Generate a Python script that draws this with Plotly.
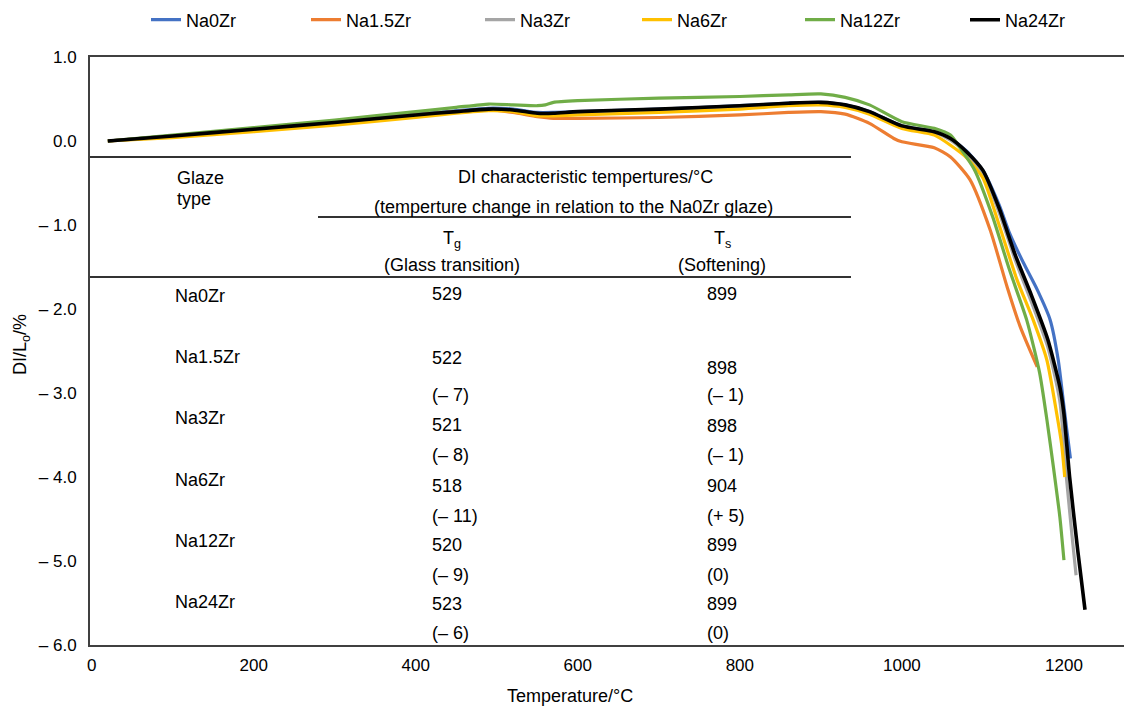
import plotly.graph_objects as go

# ---------------- data ----------------
series_names = ["Na0Zr", "Na1.5Zr", "Na3Zr", "Na6Zr", "Na12Zr", "Na24Zr"]
series_colors = ["#4472C4", "#ED7D31", "#A5A5A5", "#FFC000", "#70AD47", "#000000"]

t_na0 = [20, 100, 200, 300, 400, 450, 490, 520, 550, 570, 600, 700, 800, 860, 900, 930, 960, 1000, 1040, 1060, 1080, 1100, 1120, 1133, 1150, 1167, 1183, 1193, 1199, 1203, 1208]
d_na0 = [0.0, 0.06, 0.15, 0.23, 0.32, 0.36, 0.39, 0.38, 0.34, 0.34, 0.35, 0.38, 0.42, 0.45, 0.46, 0.43, 0.35, 0.18, 0.11, 0.03, -0.12, -0.35, -0.76, -1.10, -1.45, -1.77, -2.13, -2.61, -3.08, -3.40, -3.78]

t_na15 = [20, 100, 200, 300, 400, 450, 490, 520, 550, 570, 600, 700, 800, 860, 900, 930, 960, 990, 1000, 1040, 1060, 1084, 1109, 1130, 1146, 1158, 1167]
d_na15 = [0.0, 0.06, 0.14, 0.22, 0.31, 0.35, 0.37, 0.34, 0.29, 0.27, 0.27, 0.28, 0.31, 0.34, 0.35, 0.32, 0.21, 0.03, -0.01, -0.08, -0.19, -0.46, -1.06, -1.74, -2.21, -2.49, -2.69]

t_na3 = [20, 100, 200, 300, 400, 450, 490, 520, 550, 570, 600, 700, 800, 860, 900, 930, 960, 1000, 1040, 1060, 1080, 1100, 1120, 1140, 1160, 1180, 1195, 1203, 1210, 1215]
d_na3 = [0.0, 0.05, 0.13, 0.21, 0.30, 0.34, 0.37, 0.36, 0.32, 0.32, 0.33, 0.37, 0.41, 0.44, 0.45, 0.42, 0.34, 0.17, 0.10, 0.01, -0.15, -0.38, -0.85, -1.42, -1.92, -2.45, -3.10, -4.00, -4.70, -5.17]

t_na6 = [20, 100, 200, 300, 400, 450, 490, 520, 550, 570, 600, 700, 800, 860, 900, 930, 960, 1000, 1040, 1060, 1080, 1100, 1120, 1142, 1162, 1179, 1191, 1197, 1201]
d_na6 = [0.0, 0.04, 0.11, 0.19, 0.28, 0.33, 0.36, 0.35, 0.30, 0.30, 0.31, 0.34, 0.38, 0.42, 0.43, 0.40, 0.32, 0.15, 0.07, -0.05, -0.20, -0.44, -1.00, -1.65, -2.13, -2.61, -3.24, -3.60, -4.00]

t_na12 = [20, 100, 200, 300, 400, 450, 490, 520, 550, 560, 570, 600, 700, 800, 860, 900, 930, 960, 1000, 1040, 1060, 1071, 1090, 1112, 1133, 1154, 1170, 1179, 1187, 1195, 1200]
d_na12 = [0.0, 0.07, 0.16, 0.25, 0.35, 0.40, 0.44, 0.43, 0.42, 0.43, 0.46, 0.48, 0.51, 0.53, 0.55, 0.56, 0.52, 0.43, 0.23, 0.15, 0.07, -0.07, -0.35, -0.90, -1.54, -2.13, -2.76, -3.32, -3.88, -4.48, -4.99]

t_na24 = [20, 100, 200, 300, 400, 450, 490, 520, 550, 570, 600, 700, 800, 860, 900, 930, 960, 1000, 1040, 1060, 1080, 1100, 1120, 1140, 1160, 1180, 1195, 1200, 1207, 1217, 1226]
d_na24 = [0.0, 0.06, 0.14, 0.22, 0.31, 0.35, 0.38, 0.37, 0.33, 0.33, 0.35, 0.38, 0.42, 0.45, 0.46, 0.43, 0.35, 0.18, 0.11, 0.03, -0.13, -0.35, -0.80, -1.36, -1.84, -2.36, -2.93, -3.25, -4.00, -4.87, -5.58]

series_t = [t_na0, t_na15, t_na3, t_na6, t_na12, t_na24]
series_d = [d_na0, d_na15, d_na3, d_na6, d_na12, d_na24]

# table contents
table_glaze = ["Na0Zr", "Na1.5Zr", "Na3Zr", "Na6Zr", "Na12Zr", "Na24Zr"]
table_tg = ["529", "522", "521", "518", "520", "523"]
table_ts = ["899", "898", "898", "904", "899", "899"]
table_tg_change = ["", "(– 7)", "(– 8)", "(– 11)", "(– 9)", "(– 6)"]
table_ts_change = ["", "(– 1)", "(– 1)", "(+ 5)", "(0)", "(0)"]

y_tickvals = [1, 0, -1, -2, -3, -4, -5, -6]
y_ticktext = ["1.0", "0.0", "– 1.0", "– 2.0", "– 3.0", "– 4.0", "– 5.0", "– 6.0"]
x_tickvals = [0, 200, 400, 600, 800, 1000, 1200]

# ---------------- layout helpers ----------------
# the page body has an 8 px margin, so the figure is drawn 8 px in from the window corner
OFF = 8
W, H = 1132 - OFF, 706 - OFF
PL, PR, PT, PB = 90, 1132, 57, 645   # plot area in window pixels
FONT = "Liberation Sans, Arial, sans-serif"

def px(p):
    return (p - PL) / (PR - PL)

def py(p):
    return (PB - p) / (PB - PT)

fig = go.Figure()

legend_x = [146, 306, 480, 637, 800, 965]
for i, name in enumerate(series_names):
    lname = "legend" if i == 0 else f"legend{i+1}"
    fig.add_trace(go.Scatter(
        x=series_t[i], y=series_d[i], mode="lines", name=name,
        line=dict(color=series_colors[i], width=3.2 if name != "Na24Zr" else 3.6, shape="spline", smoothing=0.6),
        legend=lname, showlegend=True,
    ))

legend_layouts = {}
for i, start in enumerate(legend_x):
    lname = "legend" if i == 0 else f"legend{i+1}"
    legend_layouts[lname] = dict(
        x=px(start), y=py(20), xanchor="left", yanchor="middle",
        orientation="h", bgcolor="rgba(0,0,0,0)", borderwidth=0,
        font=dict(family=FONT, size=18, color="#000"),
        itemwidth=30,
    )

# table lines
line_style = dict(color="#333333", width=2)
shapes = [
    dict(type="line", xref="paper", yref="paper", x0=px(90), x1=px(851), y0=py(157), y1=py(157), line=line_style),
    dict(type="line", xref="paper", yref="paper", x0=px(318), x1=px(851), y0=py(217), y1=py(217), line=line_style),
    dict(type="line", xref="paper", yref="paper", x0=px(90), x1=px(851), y0=py(277), y1=py(277), line=line_style),
]

annotations = []
def txt(text, x, y, anchor="left", size=18):
    annotations.append(dict(text=text, x=px(x), y=py(y), xref="paper", yref="paper",
                            xanchor=anchor, yanchor="middle", showarrow=False,
                            font=dict(family=FONT, size=size, color="#000")))

txt("Glaze", 175, 178)
txt("type", 175, 199)
txt("DI characteristic tempertures/°C", 585, 177, "center")
txt("(temperture change in relation to the Na0Zr glaze)", 573, 207, "center")
txt("T<sub>g</sub>", 452, 239, "center")
txt("(Glass transition)", 452, 265, "center")
txt("T<sub>s</sub>", 722, 239, "center")
txt("(Softening)", 722, 265, "center")

name_y = [296, 357, 418, 480, 541, 602]
tg_y = [294, 358, 425, 486, 545, 604]
ts_y = [294, 368, 426, 486, 545, 604]
chg_y = [None, 395, 455, 516, 575, 633]
for i in range(len(table_glaze)):
    txt(table_glaze[i], 173, name_y[i])
    txt(table_tg[i], 430, tg_y[i])
    txt(table_ts[i], 705, ts_y[i])
    if table_tg_change[i]:
        txt(table_tg_change[i], 430, chg_y[i])
        txt(table_ts_change[i], 705, chg_y[i])

# axis titles as annotations for exact placement
annotations.append(dict(text="Temperature/°C", x=px(570), y=py(696), xref="paper", yref="paper",
                        xanchor="center", yanchor="middle", showarrow=False,
                        font=dict(family=FONT, size=18, color="#000")))
annotations.append(dict(text="DI/L<sub>o</sub>/%", x=px(21), y=py(345), xref="paper", yref="paper",
                        xanchor="center", yanchor="middle", showarrow=False, textangle=-90,
                        font=dict(family=FONT, size=18, color="#000")))

fig.update_layout(
    width=W, height=H,
    margin=dict(l=PL - OFF, r=1132 - PR, t=PT - OFF, b=706 - PB, autoexpand=False),
    paper_bgcolor="white", plot_bgcolor="white",
    font=dict(family=FONT, size=18, color="#000"),
    shapes=shapes, annotations=annotations,
    **legend_layouts,
)

fig.update_xaxes(
    range=[-2, 1284], tickvals=x_tickvals, showgrid=False, zeroline=False,
    showline=True, linecolor="#404040", linewidth=2, mirror=True,
    ticks="outside", ticklen=4, tickcolor="rgba(0,0,0,0)", automargin=False,
    tickfont=dict(family=FONT, size=17, color="#000"),
)
fig.update_yaxes(
    range=[-6, 1], tickvals=y_tickvals, ticktext=y_ticktext, showgrid=False, zeroline=False,
    showline=True, linecolor="#404040", linewidth=2, mirror=False,
    ticks="outside", ticklen=8, tickcolor="rgba(0,0,0,0)", automargin=False,
    tickfont=dict(family=FONT, size=17, color="#000"),
)

fig.write_html("out.html")
